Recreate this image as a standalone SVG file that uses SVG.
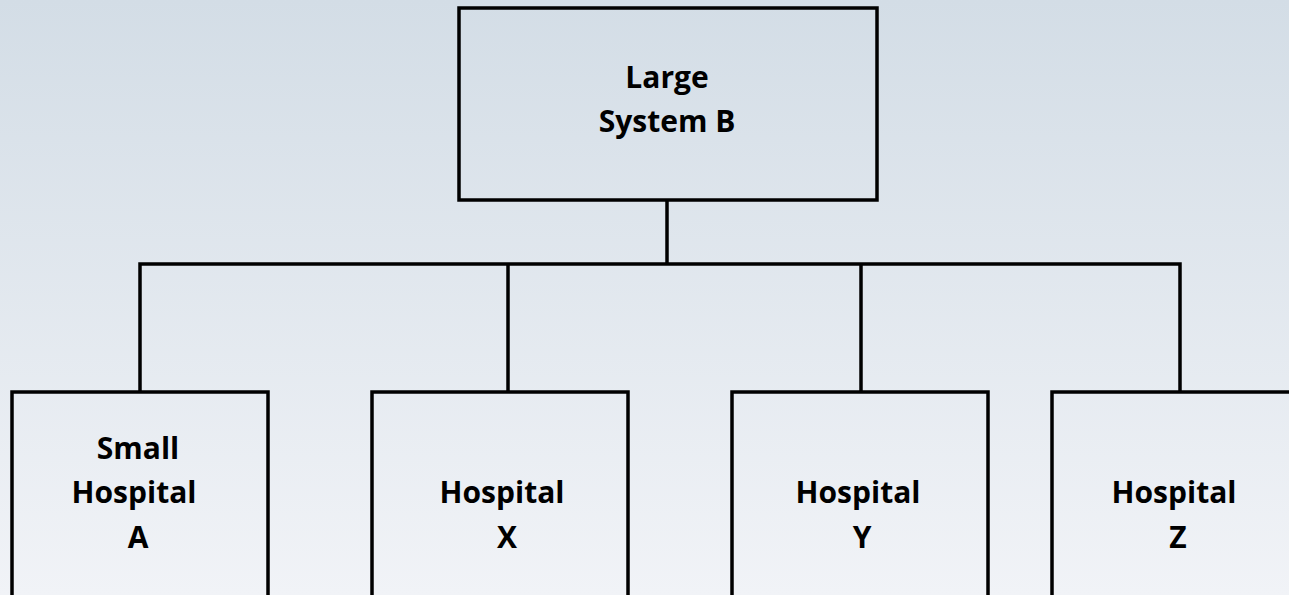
<svg xmlns="http://www.w3.org/2000/svg" width="1289" height="595" viewBox="0 0 1289 595">
<defs>
<linearGradient id="bg" x1="0" y1="0" x2="0" y2="1">
<stop offset="0" stop-color="#d3dde6"/>
<stop offset="1" stop-color="#f1f3f7"/>
</linearGradient>
<style>
.box{fill:none;stroke:#000;stroke-width:3.5}
.wire{fill:none;stroke:#000;stroke-width:3.5}
.lbl{font-family:"Open Sans","Noto Sans",sans-serif;font-weight:bold;font-size:30px;fill:#000;text-anchor:middle}
</style>
</defs>
<rect x="0" y="0" width="1289" height="595" fill="url(#bg)"/>
<g id="connectors">
<path class="wire" d="M667 200 V264"/>
<path class="wire" d="M140 392 V264 H1180 V392"/>
<path class="wire" d="M508 264 V392"/>
<path class="wire" d="M861 264 V392"/>
</g>
<g id="node-large-system-b">
<rect class="box" x="459" y="8" width="418" height="192"/>
<text class="lbl" x="667" y="88">Large</text>
<text class="lbl" x="667" y="132">System B</text>
</g>
<g id="node-small-hospital-a">
<rect class="box" x="12" y="392" width="256" height="220"/>
<text class="lbl" x="138" y="459">Small</text>
<text class="lbl" x="134" y="503">Hospital</text>
<text class="lbl" x="138" y="548">A</text>
</g>
<g id="node-hospital-x">
<rect class="box" x="372" y="392" width="256" height="220"/>
<text class="lbl" x="502" y="503">Hospital</text>
<text class="lbl" x="507" y="548">X</text>
</g>
<g id="node-hospital-y">
<rect class="box" x="732" y="392" width="256" height="220"/>
<text class="lbl" x="858" y="503">Hospital</text>
<text class="lbl" x="862" y="548">Y</text>
</g>
<g id="node-hospital-z">
<rect class="box" x="1052" y="392" width="256" height="220"/>
<text class="lbl" x="1174" y="503">Hospital</text>
<text class="lbl" x="1178" y="548">Z</text>
</g>
</svg>
